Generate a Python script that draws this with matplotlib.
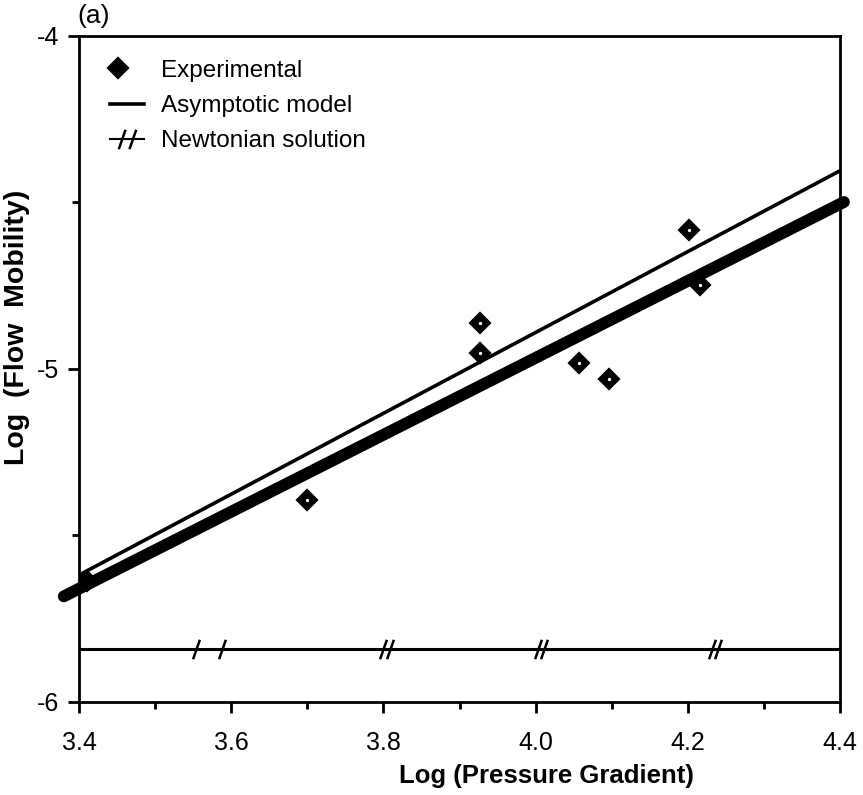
import matplotlib
matplotlib.use("Agg")
import matplotlib.pyplot as plt
from matplotlib.lines import Line2D
from matplotlib.path import Path
from matplotlib.legend_handler import HandlerTuple

plt.rcParams['font.family'] = ['Liberation Sans', 'DejaVu Sans']

# Experimental measurements
log_pressure_gradient = [3.41, 3.70, 3.927, 3.927, 4.057, 4.096, 4.202, 4.216]
log_flow_mobility = [-5.636, -5.395, -4.863, -4.953, -4.981, -5.029, -4.583, -4.748]

# Asymptotic model (straight line in log-log space)
asym_x = [3.40, 4.40]
asym_y = [-5.619, -4.405]

# Newtonian solution
newton_x = [3.38, 4.405]
newton_y = [-5.683, -4.499]

# Reference level with break marks
ref_level = -5.84
ref_x = [3.40, 4.40]
break_x = [3.554, 3.588, 3.800, 3.808, 4.003, 4.011, 4.232, 4.240]

x_ticks = [3.4, 3.6, 3.8, 4.0, 4.2, 4.4]
x_tick_labels = ['3.4', '3.6', '3.8', '4.0', '4.2', '4.4']
y_ticks = [-6, -5, -4]
y_tick_labels = ['-6', '-5', '-4']

slash = Path([(-0.35, -1.0), (0.35, 1.0)], [Path.MOVETO, Path.LINETO])
double_slash = Path([(-0.9, -1.0), (-0.2, 1.0), (0.2, -1.0), (0.9, 1.0)],
                    [Path.MOVETO, Path.LINETO, Path.MOVETO, Path.LINETO])

fig = plt.figure(figsize=(8.63, 7.95), dpi=100)
ax = fig.add_axes([0.0915, 0.117, 0.882, 0.838])

ax.plot(log_pressure_gradient, log_flow_mobility, linestyle='none', marker='D',
        markersize=10, color='black', markeredgewidth=1.6, zorder=3)
ax.plot(log_pressure_gradient, log_flow_mobility, linestyle='none', marker='o',
        markersize=2.4, color='white', markeredgewidth=0, zorder=3.1)

ax.plot(asym_x, asym_y, color='black', lw=2.6, solid_capstyle='round', zorder=4)
ax.plot(newton_x, newton_y, color='black', lw=8.5, solid_capstyle='round',
        zorder=5, clip_on=False)

ax.plot(ref_x, [ref_level, ref_level], color='black', lw=2.2, zorder=2)
ax.plot(break_x, [ref_level] * len(break_x), linestyle='none', marker=slash,
        markersize=14, color='black', markeredgewidth=1.8, zorder=2)

ax.set_xlim(3.4, 4.4)
ax.set_ylim(-6, -4)
ax.set_xticks(x_ticks)
ax.set_xticklabels(x_tick_labels)
ax.set_xticks([3.5, 3.7, 3.9, 4.1, 4.3], minor=True)
ax.set_yticks(y_ticks)
ax.set_yticklabels(y_tick_labels)
ax.set_yticks([-5.5, -4.5], minor=True)

ax.tick_params(which='major', direction='out', length=8, width=2, labelsize=18)
ax.tick_params(axis='x', which='major', pad=13)
ax.tick_params(axis='y', which='major', pad=6)
ax.tick_params(which='minor', direction='out', length=5, width=2)
for s in ax.spines.values():
    s.set_linewidth(2)

ax.set_xlabel('Log (Pressure Gradient)', fontsize=18.5, fontweight='bold')
ax.xaxis.set_label_coords(0.614, -0.093)
ax.set_ylabel('Log  (Flow  Mobility)', fontsize=20.5, fontweight='bold')
ax.yaxis.set_label_coords(-0.064, 0.563)

fig.text(0.090, 0.995, '(a)', fontsize=19, va='top', ha='left')

h_exp = (Line2D([], [], linestyle='none', marker='D', markersize=10, color='black',
                markeredgewidth=1.6),
         Line2D([], [], linestyle='none', marker='o', markersize=2.8, color='white',
                markeredgewidth=0))
h_asym = Line2D([], [], color='black', lw=2.6)
h_newt = Line2D([], [], color='black', lw=1.5, marker=double_slash, markersize=14,
                markeredgewidth=1.8)

ax.legend([h_exp, h_asym, h_newt],
          ['Experimental', 'Asymptotic model', 'Newtonian solution'],
          handler_map={tuple: HandlerTuple(ndivide=None, pad=0)},
          loc='upper left', bbox_to_anchor=(0.012, 0.997), frameon=False,
          fontsize=17.5, handlelength=1.4, handletextpad=0.7, labelspacing=0.55)

fig.savefig('out.png', dpi=100)
